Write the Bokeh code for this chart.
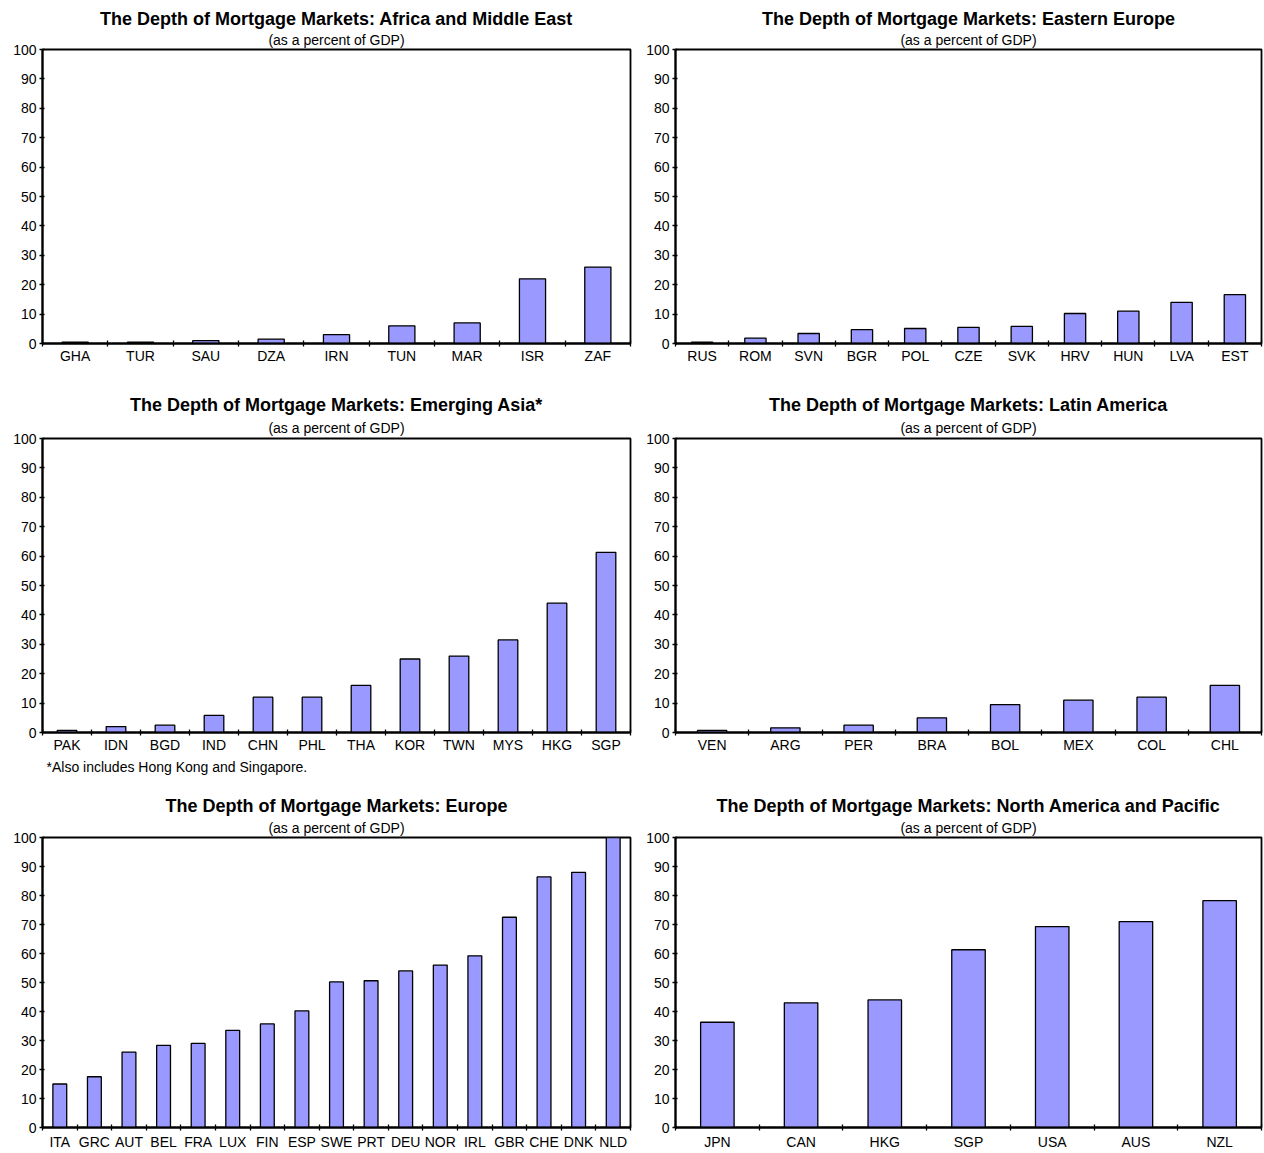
from bokeh.plotting import figure
from bokeh.models import Title, FixedTicker, Range1d
from bokeh.layouts import gridplot
from bokeh.embed import file_html
from bokeh.resources import INLINE

FONT = "Liberation Sans"
BAR_COLOR = "#9999FF"
SUBTITLE = "(as a percent of GDP)"

africa_title = "The Depth of Mortgage Markets: Africa and Middle East"
africa_cats = ["GHA", "TUR", "SAU", "DZA", "IRN", "TUN", "MAR", "ISR", "ZAF"]
africa_vals = [0.5, 0.5, 1.0, 1.5, 3.0, 6.0, 7.0, 22.0, 26.0]

eeurope_title = "The Depth of Mortgage Markets: Eastern Europe"
eeurope_cats = ["RUS", "ROM", "SVN", "BGR", "POL", "CZE", "SVK", "HRV", "HUN", "LVA", "EST"]
eeurope_vals = [0.5, 1.8, 3.4, 4.7, 5.1, 5.5, 5.8, 10.2, 11.0, 14.0, 16.6]

asia_title = "The Depth of Mortgage Markets: Emerging Asia*"
asia_cats = ["PAK", "IDN", "BGD", "IND", "CHN", "PHL", "THA", "KOR", "TWN", "MYS", "HKG", "SGP"]
asia_vals = [0.7, 2.0, 2.5, 5.8, 12.0, 12.0, 16.0, 25.0, 26.0, 31.5, 44.0, 61.3]
asia_note = "*Also includes Hong Kong and Singapore."

latam_title = "The Depth of Mortgage Markets: Latin America"
latam_cats = ["VEN", "ARG", "PER", "BRA", "BOL", "MEX", "COL", "CHL"]
latam_vals = [0.7, 1.6, 2.5, 5.0, 9.5, 11.0, 12.0, 16.0]

europe_title = "The Depth of Mortgage Markets: Europe"
europe_cats = ["ITA", "GRC", "AUT", "BEL", "FRA", "LUX", "FIN", "ESP", "SWE",
               "PRT", "DEU", "NOR", "IRL", "GBR", "CHE", "DNK", "NLD"]
europe_vals = [15.0, 17.5, 26.0, 28.3, 29.0, 33.5, 35.7, 40.2, 50.2,
               50.6, 54.0, 56.0, 59.2, 72.5, 86.4, 88.0, 100.0]

napac_title = "The Depth of Mortgage Markets: North America and Pacific"
napac_cats = ["JPN", "CAN", "HKG", "SGP", "USA", "AUS", "NZL"]
napac_vals = [36.3, 43.0, 44.0, 61.3, 69.3, 71.0, 78.2]

y_ticks = [0, 10, 20, 30, 40, 50, 60, 70, 80, 90, 100]


def make_panel(title, cats, vals, width, height, bl, br, bt, bb, note=None,
               sub_standoff=3, label_standoff=1):
    n = len(cats)
    p = figure(width=width, height=height, output_backend="svg", toolbar_location=None,
               title=None, x_range=Range1d(-0.5, n - 0.5), y_range=Range1d(0, 100),
               min_border_left=bl, min_border_right=br, min_border_top=bt,
               min_border_bottom=bb, background_fill_color="white",
               border_fill_color="white")
    xs = list(range(n))
    p.vbar(x=xs, top=vals, bottom=0, width=0.4, fill_color=BAR_COLOR,
           line_color="black", line_width=1.3)

    p.xgrid.visible = False
    p.ygrid.visible = False
    p.outline_line_color = "black"
    p.outline_line_width = 1.8
    p.outline_line_alpha = 1

    # y axis
    p.yaxis.ticker = FixedTicker(ticks=y_ticks)
    p.yaxis.major_tick_in = 2
    p.yaxis.major_tick_out = 3
    p.yaxis.major_tick_line_width = 1.3
    p.yaxis.minor_tick_in = 0
    p.yaxis.minor_tick_out = 0
    p.yaxis.axis_line_width = 2
    p.yaxis.major_label_standoff = 3
    p.yaxis.major_label_text_font = FONT
    p.yaxis.major_label_text_font_size = "14px"
    p.yaxis.major_label_text_color = "black"

    # x axis: labels at centers, tick marks between categories
    p.xaxis.ticker = FixedTicker(ticks=xs, minor_ticks=[i - 0.5 for i in range(n + 1)])
    p.xaxis.major_label_overrides = {i: c for i, c in enumerate(cats)}
    p.xaxis.major_tick_in = 0
    p.xaxis.major_tick_out = 0
    p.xaxis.minor_tick_in = 3
    p.xaxis.minor_tick_out = 3
    p.xaxis.minor_tick_line_width = 1.3
    p.xaxis.axis_line_width = 2
    p.xaxis.major_label_standoff = label_standoff
    p.xaxis.major_label_text_font = FONT
    p.xaxis.major_label_text_font_size = "14px"
    p.xaxis.major_label_text_color = "black"

    p.add_layout(Title(text=SUBTITLE, align="center", text_font=FONT,
                       text_font_size="14px", text_font_style="normal",
                       text_color="black", standoff=sub_standoff, offset=0), "above")
    p.add_layout(Title(text=title, align="center", text_font=FONT,
                       text_font_size="18px", text_font_style="bold",
                       text_color="black", standoff=0, offset=0), "above")
    if note:
        p.add_layout(Title(text=note, align="left", text_font=FONT,
                           text_font_size="14px", text_font_style="normal",
                           text_color="black", standoff=2, offset=4), "below")
    return p


# column 1: x 0..640, column 2: x 640..1263
# row 1: y 0..389, row 2: y 389..793, row 3: y 793..1152
p1 = make_panel(africa_title, africa_cats, africa_vals, 640, 389, 38, 10, 49, 46)
p2 = make_panel(eeurope_title, eeurope_cats, eeurope_vals, 623, 389, 31, 2, 49, 46)
p3 = make_panel(asia_title, asia_cats, asia_vals, 640, 404, 38, 10, 49, 61,
                note=asia_note, sub_standoff=6)
p4 = make_panel(latam_title, latam_cats, latam_vals, 623, 404, 31, 2, 49, 61,
                sub_standoff=6)
p5 = make_panel(europe_title, europe_cats, europe_vals, 640, 359, 42, 8, 43, 23,
                sub_standoff=4, label_standoff=3)
p6 = make_panel(napac_title, napac_cats, napac_vals, 623, 359, 35, 2, 43, 23,
                sub_standoff=4, label_standoff=3)

grid = gridplot([[p1, p2], [p3, p4], [p5, p6]], toolbar_location=None)

open("out.html", "w").write(file_html(grid, INLINE))
